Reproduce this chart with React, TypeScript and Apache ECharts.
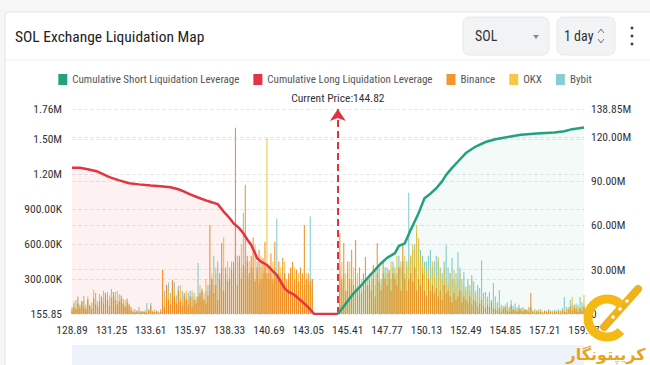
import React, { useEffect, useRef } from "react";
import * as echarts from "echarts";

const PRICE_START = 128.89;
const PRICE_STEP = 0.118;
const PRICE_COUNT = 261;
const CURRENT_PRICE = 144.82;
const CURRENT_INDEX = 135;

const X_TICK_LABELS = ["128.89", "131.25", "133.61", "135.97", "138.33", "140.69", "143.05", "145.41", "147.77", "150.13", "152.49", "154.85", "157.21", "159.57"];
const LEFT_TICKS = [155.85, 300000, 600000, 900000, 1200000, 1500000, 1760000];
const RIGHT_TICKS = [0, 30000000, 60000000, 90000000, 120000000, 138850000];

// liquidation volume per price level, in thousands
const BINANCE_K = [
  30, 60, 40, 90, 50, 110, 60, 40, 120, 70,
  40, 130, 80, 60, 110, 150, 90, 180, 120, 70,
  140, 190, 120, 80, 110, 160, 90, 60, 130, 80,
  60, 20, 15, 30, 10, 25, 20, 15, 10, 30,
  70, 20, 15, 25, 10, 20, 378, 60, 250, 120,
  80, 290, 150, 90, 200, 110, 70, 180, 130, 80,
  150, 60, 120, 90, 150, 180, 200, 120, 90, 160,
  764, 300, 180, 250, 120, 350, 610, 200, 400, 280,
  300, 380, 450, 1600, 250, 500, 300, 420, 1110, 500,
  350, 500, 660, 280, 400, 550, 300, 480, 620, 350,
  400, 520, 300, 620, 350, 450, 280, 480, 350, 300,
  350, 400, 446, 300, 380, 280, 400, 350, 764, 300,
  350, 280, 300, 0, 0, 0, 0, 0, 0, 0,
  0, 0, 0, 0, 0, 0, 693, 300, 610, 200,
  450, 300, 550, 250, 635, 200, 400, 180, 350, 490,
  250, 300, 200, 420, 150, 610, 280, 200, 450, 300,
  250, 380, 200, 350, 300, 250, 400, 200, 610, 300,
  200, 300, 350, 280, 400, 200, 300, 250, 350, 200,
  150, 300, 200, 250, 180, 220, 150, 200, 120, 250,
  180, 200, 150, 100, 180, 120, 150, 200, 100, 150,
  120, 100, 150, 80, 120, 100, 60, 90, 120, 70,
  50, 80, 60, 100, 50, 40, 30, 50, 20, 40,
  60, 30, 20, 80, 40, 30, 20, 50, 30, 20,
  40, 30, 20, 180, 20, 10, 30, 15, 20, 10,
  25, 15, 30, 20, 10, 20, 15, 25, 10, 30,
  20, 15, 40, 60, 30, 80, 40, 20, 50, 30,
  60,
];
const OKX_K = [
  60, 110, 50, 140, 80, 60, 120, 50, 150, 80,
  100, 206, 130, 80, 170, 120, 190, 140, 110, 160,
  170, 110, 150, 200, 100, 130, 80, 120, 60, 90,
  20, 40, 10, 20, 30, 15, 25, 20, 40, 20,
  30, 20, 40, 20, 15, 30, 50, 150, 80, 200,
  150, 100, 220, 120, 80, 250, 140, 100, 200, 120,
  100, 200, 80, 150, 120, 250, 120, 180, 300, 140,
  200, 350, 250, 400, 300, 250, 200, 660, 300, 450,
  400, 250, 350, 500, 300, 450, 600, 350, 400, 300,
  450, 300, 400, 600, 350, 300, 500, 350, 400, 1510,
  350, 300, 450, 400, 300, 350, 400, 300, 450, 250,
  300, 350, 250, 400, 300, 350, 280, 300, 250, 350,
  300, 250, 200, 0, 0, 0, 0, 0, 0, 0,
  0, 0, 0, 0, 0, 0, 400, 450, 300, 350,
  350, 450, 300, 400, 300, 350, 250, 300, 200, 300,
  300, 350, 250, 300, 400, 300, 350, 250, 300, 350,
  350, 300, 450, 400, 350, 500, 400, 450, 350, 500,
  400, 450, 500, 600, 550, 764, 650, 500, 450, 400,
  350, 400, 300, 450, 350, 300, 490, 350, 300, 400,
  300, 250, 350, 300, 378, 250, 300, 350, 200, 250,
  200, 250, 200, 300, 180, 150, 200, 150, 180, 120,
  120, 100, 150, 80, 120, 100, 80, 60, 50, 70,
  50, 70, 40, 60, 30, 50, 40, 30, 50, 40,
  30, 40, 50, 60, 20, 30, 20, 40, 30, 20,
  20, 30, 15, 20, 30, 15, 25, 20, 30, 20,
  40, 30, 60, 40, 146, 50, 60, 80, 40, 60,
  163,
];
const BYBIT_K = [
  50, 90, 120, 150, 70, 110, 155, 80, 130, 60,
  90, 140, 180, 110, 170, 130, 200, 160, 190, 120,
  215, 150, 190, 110, 170, 100, 130, 70, 100, 60,
  30, 15, 40, 20, 60, 20, 15, 30, 95, 40,
  95, 30, 20, 30, 20, 40, 80, 200, 120, 270,
  180, 220, 270, 160, 240, 130, 200, 150, 110, 180,
  200, 150, 180, 120, 438, 150, 220, 130, 200, 250,
  250, 300, 500, 350, 450, 300, 400, 280, 350, 300,
  350, 450, 300, 400, 500, 350, 400, 867, 300, 450,
  300, 400, 350, 300, 450, 250, 400, 300, 350, 300,
  300, 350, 250, 300, 820, 300, 350, 250, 300, 200,
  250, 300, 200, 250, 300, 200, 250, 300, 200, 250,
  250, 840, 300, 0, 0, 0, 0, 0, 0, 0,
  0, 0, 0, 0, 0, 0, 300, 250, 350, 200,
  200, 250, 300, 200, 250, 300, 200, 250, 300, 200,
  300, 250, 350, 300, 250, 350, 400, 300, 350, 400,
  400, 350, 300, 450, 400, 350, 500, 400, 450, 350,
  450, 1040, 500, 550, 600, 700, 600, 550, 500, 450,
  450, 500, 550, 400, 450, 500, 450, 400, 350, 450,
  590, 400, 350, 480, 300, 350, 530, 400, 300, 360,
  232, 300, 250, 335, 280, 200, 250, 223, 460, 180,
  190, 150, 190, 120, 266, 150, 100, 206, 80, 60,
  80, 100, 60, 120, 70, 90, 60, 80, 50, 60,
  40, 30, 60, 50, 30, 40, 20, 30, 40, 20,
  30, 20, 40, 30, 20, 35, 30, 40, 25, 50,
  146, 60, 40, 120, 80, 50, 90, 60, 146, 100,
  80,
];

// cumulative leverage, [price index, millions]
const LONG_CUM_M = [
  [0, 99], [4, 99], [8, 98], [13, 96.5], [19, 92.7], [24, 90.5], [29, 88.6], [34, 87.8], [40, 87], [45, 86.5],
  [50, 85.9], [54, 84.5], [57, 82.9], [60, 81], [64, 78.9], [69, 76.5], [74, 74.4], [77, 69.4], [80, 65], [82, 61.5],
  [85, 58], [87, 54.7], [89, 50.5], [91, 46.8], [93, 41], [94, 37.8], [96, 35.5], [99, 33.2], [102, 29], [104, 26.4],
  [106, 22], [108, 17.4], [110, 15], [113, 12.9], [115, 10.5], [117, 8.3], [120, 4.5], [123, 0], [135, 0],
];
const SHORT_CUM_M = [
  [135, 0], [139, 7], [143, 14], [147, 19.5], [150, 24.2], [154, 30], [157, 34.4], [160, 38], [164, 41.2], [166, 46.1],
  [169, 47.9], [172, 57], [176, 68.3], [179, 78.4], [182, 81.5], [185, 85.2], [188, 90], [190, 94.2], [193, 99], [196, 103.3],
  [200, 109], [205, 113.4], [210, 116.5], [215, 118.4], [222, 120], [228, 121.4], [236, 122.2], [245, 122.9], [250, 123.8], [254, 125.2],
  [260, 126.3],
];

const FONT = "'Roboto Condensed','Liberation Sans Narrow','DejaVu Sans Condensed',Roboto,sans-serif";

export default function App() {
  const ref = useRef<HTMLDivElement>(null);
  useEffect(() => {
    if (!ref.current) return;
    const chart = echarts.init(ref.current, undefined, { renderer: "svg" });
    const categories = Array.from({ length: PRICE_COUNT }, (_, i) => (PRICE_START + i * PRICE_STEP).toFixed(2));
    const k = (arr: number[]) => arr.map((v) => v * 1000);
    const m = (arr: number[][]) => arr.map(([i, v]) => [i, v * 1e6]);
    const leftFmt = (v: number) =>
      v < 1000 ? v.toFixed(2) : v >= 1e6 ? (v / 1e6).toFixed(2) + "M" : (v / 1e3).toFixed(2) + "K";
    const rightFmt = (v: number) => (v === 0 ? "0" : (v / 1e6).toFixed(2) + "M");

    const barCommon = {
      type: "bar",
      xAxisIndex: 0,
      yAxisIndex: 0,
      barWidth: 1.1,
      barGap: "-100%",
    };

    chart.setOption({
      animation: false,
      backgroundColor: "#f6f6f6",
      textStyle: { fontFamily: FONT },
      grid: { left: 72, right: 66, top: 109, bottom: 51 },
      legend: {
        left: "center",
        top: 69,
        icon: "rect",
        itemWidth: 9,
        itemHeight: 11,
        itemGap: 14,
        textStyle: { fontSize: 11, color: "#555", fontFamily: FONT },
        data: [
          "Cumulative Short Liquidation Leverage",
          "Cumulative Long Liquidation Leverage",
          "Binance",
          "OKX",
          "Bybit",
        ],
      },
      xAxis: {
        type: "category",
        data: categories,
        boundaryGap: false,
        axisLine: { show: false },
        axisTick: { show: false },
        axisLabel: {
          interval: (_: number, val: string) => X_TICK_LABELS.includes(val),
          color: "#333",
          fontSize: 11.5,
          margin: 10,
          fontFamily: FONT,
        },
        splitLine: { show: false },
      },
      yAxis: [
        {
          type: "value",
          min: LEFT_TICKS[0],
          max: LEFT_TICKS[LEFT_TICKS.length - 1],
          axisLine: { show: false },
          axisTick: { show: false, customValues: LEFT_TICKS },
          axisLabel: { customValues: LEFT_TICKS, formatter: leftFmt, color: "#333", fontSize: 11.5, margin: 10, fontFamily: FONT },
          splitLine: { show: true, lineStyle: { type: "dashed", color: "#e8e8e8" } },
        },
        {
          type: "value",
          min: RIGHT_TICKS[0],
          max: RIGHT_TICKS[RIGHT_TICKS.length - 1],
          position: "right",
          axisLine: { show: false },
          axisTick: { show: false, customValues: RIGHT_TICKS },
          axisLabel: { customValues: RIGHT_TICKS, formatter: rightFmt, color: "#333", fontSize: 11.5, margin: 7, fontFamily: FONT },
          splitLine: { show: true, lineStyle: { type: "dashed", color: "#e8e8e8" } },
        },
      ],
      series: [
        {
          name: "Cumulative Short Liquidation Leverage",
          type: "line",
          yAxisIndex: 1,
          data: m(SHORT_CUM_M),
          symbol: "none",
          z: 6,
          color: "#23a17f",
          lineStyle: { width: 2.5, color: "#23a17f" },
          areaStyle: { color: "rgba(35,161,127,0.08)" },
          markLine: {
            silent: true,
            symbol: ["none", "arrow"],
            symbolSize: 12,
            lineStyle: { type: [7, 4], color: "#e0323f", width: 2 },
            label: {
              show: true,
              position: "end",
              formatter: "Current Price:" + CURRENT_PRICE.toFixed(2),
              color: "#333",
              fontSize: 11.5,
              distance: 5,
              fontFamily: FONT,
            },
            data: [{ xAxis: CURRENT_INDEX }],
          },
        },
        {
          name: "Cumulative Long Liquidation Leverage",
          type: "line",
          yAxisIndex: 1,
          data: m(LONG_CUM_M),
          symbol: "none",
          z: 6,
          color: "#e23442",
          lineStyle: { width: 2.5, color: "#e23442" },
          areaStyle: { color: "rgba(234,57,67,0.1)" },
        },
        { ...barCommon, name: "Binance", data: k(BINANCE_K), color: "#f28a1a", z: 4, itemStyle: { color: "#f28a1a", opacity: 0.9 } },
        { ...barCommon, name: "OKX", data: k(OKX_K), color: "#f5c232", z: 3, itemStyle: { color: "#f5c232", opacity: 0.9 } },
        { ...barCommon, name: "Bybit", data: k(BYBIT_K), color: "#8fd3d2", z: 2, itemStyle: { color: "#86cfd0", opacity: 1 } },
      ],
      graphic: [
        { type: "rect", z: -10, shape: { x: 5, y: 12, width: 660, height: 400, r: 4 }, style: { fill: "#ffffff", stroke: "#e6e6e6" } },
        { type: "line", z: -9, shape: { x1: 5, y1: 60, x2: 650, y2: 60 }, style: { stroke: "#ececec", lineWidth: 1 } },
        { type: "rect", z: -9, shape: { x: 72, y: 345, width: 512, height: 22 }, style: { fill: "#eef2fa" } },
        { type: "text", z: 10, x: 15, y: 37, style: { text: "SOL Exchange Liquidation Map", fill: "#222", fontSize: 15.5, fontFamily: FONT, verticalAlign: "middle" } },
        { type: "rect", z: 10, shape: { x: 463, y: 17, width: 86, height: 38, r: 6 }, style: { fill: "#f2f3f5", stroke: "#e8e8e8" } },
        { type: "text", z: 11, x: 475, y: 36, style: { text: "SOL", fill: "#333", fontSize: 14, fontFamily: FONT, verticalAlign: "middle" } },
        { type: "polygon", z: 11, shape: { points: [[533, 35], [539, 35], [536, 39]] }, style: { fill: "#888" } },
        { type: "rect", z: 10, shape: { x: 557, y: 17, width: 58, height: 38, r: 6 }, style: { fill: "#f2f3f5", stroke: "#e8e8e8" } },
        { type: "text", z: 11, x: 564, y: 36, style: { text: "1 day", fill: "#333", fontSize: 14, fontFamily: FONT, verticalAlign: "middle" } },
        { type: "polyline", z: 11, shape: { points: [[598, 33], [601, 29], [604, 33]] }, style: { stroke: "#777", lineWidth: 1, fill: null } },
        { type: "polyline", z: 11, shape: { points: [[598, 39], [601, 43], [604, 39]] }, style: { stroke: "#777", lineWidth: 1, fill: null } },
        { type: "circle", z: 11, shape: { cx: 632, cy: 28, r: 1.5 }, style: { fill: "#444" } },
        { type: "circle", z: 11, shape: { cx: 632, cy: 36, r: 1.5 }, style: { fill: "#444" } },
        { type: "circle", z: 11, shape: { cx: 632, cy: 44, r: 1.5 }, style: { fill: "#444" } },
        // watermark
        { type: "line", z: 30, shape: { x1: 604, y1: 327, x2: 638, y2: 289 }, style: { stroke: "#f0b21c", lineWidth: 8, lineCap: "round" } },
        { type: "circle", z: 31, shape: { cx: 613, cy: 317, r: 1.8 }, style: { fill: "#ffffff" } },
        { type: "circle", z: 31, shape: { cx: 620, cy: 309, r: 1.8 }, style: { fill: "#ffffff" } },
        { type: "circle", z: 31, shape: { cx: 627, cy: 301, r: 1.8 }, style: { fill: "#ffffff" } },
        { type: "arc", z: 30, shape: { cx: 607, cy: 318, r: 19, startAngle: 0.75, endAngle: 5.55, clockwise: true }, style: { stroke: "#f5b914", lineWidth: 9, fill: null } },
        { type: "text", z: 30, x: 606, y: 354, style: { text: "کریپتونگار", fill: "#e9a31c", fontSize: 16, fontWeight: "bold", fontFamily: "'Noto Sans','DejaVu Sans',sans-serif", align: "center", verticalAlign: "middle" } },
      ],
    });
    return () => chart.dispose();
  }, []);
  return <div ref={ref} style={{ position: "fixed", left: 0, top: 0, width: 650, height: 365 }} />;
}
